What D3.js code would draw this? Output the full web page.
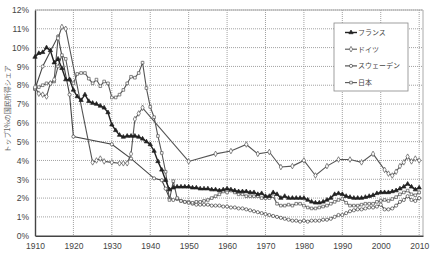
<!DOCTYPE html>
<html>
<head>
<meta charset="utf-8">
<script src="https://cdn.jsdelivr.net/npm/d3@7"></script>
<style>
  body { margin: 0; background: #fff; }
  svg { display: block; font-family: "Liberation Sans", Arial, sans-serif; }
</style>
</head>
<body>
<div id="chart"></div>
<script>
const yearTicks = [1910, 1920, 1930, 1940, 1950, 1960, 1970, 1980, 1990, 2000, 2010];
const shareTicks = [0, 1, 2, 3, 4, 5, 6, 7, 8, 9, 10, 11, 12];
const seriesNames = ["フランス", "ドイツ", "スウェーデン", "日本"];

const franceYears = d3.range(1910, 2011);
const franceValues = [
  9.5, 9.7, 9.75, 10.0, 9.85, 9.2, 9.4, 8.9, 8.3, 8.3,
  7.75, 7.4, 7.2, 7.5, 7.15, 7.05, 7.0, 6.9, 6.8, 6.55,
  5.9, 5.6, 5.35, 5.25, 5.3, 5.3, 5.3, 5.25, 5.15, 5.0,
  4.85, 4.5, 3.95, 3.5, 2.95, 2.45, 2.55, 2.6, 2.6, 2.6,
  2.6, 2.55, 2.55, 2.5, 2.5, 2.5, 2.45, 2.45, 2.4, 2.45,
  2.5, 2.45, 2.4, 2.35, 2.35, 2.35, 2.3, 2.3, 2.2, 2.25,
  2.1, 2.1, 2.3, 2.2, 2.0, 2.1, 2.0, 2.0, 2.0, 2.0,
  2.0, 1.9, 1.8, 1.75, 1.75, 1.8, 1.9, 2.0, 2.2, 2.25,
  2.2, 2.1, 2.05, 2.0, 2.0, 2.0, 2.05, 2.1, 2.15, 2.25,
  2.3, 2.3, 2.3, 2.35, 2.4, 2.5, 2.6, 2.75, 2.6, 2.45,
  2.55
];

const germanyYears = [1910, 1911, 1912, 1913, 1914, 1915, 1916, 1917, 1918,
  1925, 1926, 1927, 1928, 1930, 1932, 1933, 1934, 1935, 1936, 1937, 1938,
  1950, 1957, 1961, 1965, 1968, 1971, 1974, 1977, 1980, 1983, 1986, 1989,
  1992, 1995, 1998, 2001, 2002, 2003, 2004, 2005, 2006, 2007, 2008, 2009, 2010];
const germanyValues = [7.9, 7.55, 7.5, 7.4, 8.1, 8.3, 10.5, 11.1, 11.0,
  3.9, 4.0, 4.1, 3.95, 3.9, 3.85, 3.85, 3.85, 4.35, 6.2, 6.5, 6.8,
  3.95, 4.35, 4.5, 4.85, 4.35, 4.45, 3.65, 3.7, 4.0, 3.2, 3.7, 4.05,
  4.05, 3.9, 4.35, 3.5, 3.3, 3.2, 3.4, 3.7, 3.9, 4.2, 3.95, 4.1, 4.0];

const swedenYears = [1910, 1912, 1916, 1919, 1920, 1930, 1935, 1941, 1943, 1944]
  .concat(d3.range(1945, 2011));
const swedenValues = [7.8, 9.0, 10.6, 7.5, 5.27, 4.86, 4.1, 3.05, 2.95, 2.5,
  2.0, 1.9, 1.95, 1.85, 1.8, 1.8, 1.7, 1.65, 1.65, 1.65,
  1.65, 1.6, 1.6, 1.6, 1.55, 1.55, 1.5, 1.5, 1.45, 1.45,
  1.4, 1.35, 1.3, 1.25, 1.2, 1.15, 1.1, 1.05, 1.0, 0.95,
  0.9, 0.85, 0.8, 0.8, 0.75, 0.8, 0.75, 0.8, 0.8, 0.8,
  0.85, 0.85, 0.9, 1.0, 1.1, 1.1, 1.2, 1.3, 1.35, 1.4,
  1.4, 1.45, 1.5, 1.5, 1.55, 1.65, 1.4, 1.4, 1.45, 1.6,
  1.8, 1.9, 2.1, 1.9, 1.85, 2.0];

const japanYears = d3.range(1910, 2011);
const japanValues = [
  7.8, 7.9, 8.0, 8.1, 8.1, 8.2, 9.0, 9.6, 9.4, 8.3,
  8.1, 8.6, 8.65, 8.65, 8.35, 8.1, 8.3, 7.95, 8.2, 8.1,
  7.35, 7.35, 7.5, 7.75, 8.1, 8.45, 8.4, 8.65, 9.2, 7.85,
  6.85, 6.3, 5.3, 4.4, 3.4, 1.9, 2.9, 2.0, 1.85, 1.8,
  1.75, 1.75, 1.8, 1.8, 1.85, 1.9, 2.0, 2.1, 2.2, 2.35,
  2.3, 2.4, 2.3, 2.2, 2.2, 2.1, 2.1, 2.1, 2.1, 2.0,
  2.0, 2.0, 2.1, 1.7, 1.6, 1.6, 1.65, 1.6, 1.7, 1.7,
  1.6, 1.5, 1.45, 1.45, 1.5, 1.55, 1.6, 1.7, 1.8, 1.9,
  1.95, 1.75, 1.6, 1.6, 1.6, 1.65, 1.7, 1.7, 1.7, 1.8,
  1.85, 1.9, 1.85, 1.95, 2.05, 2.2, 2.3, 2.4, 2.2, 2.15,
  2.3
];

const width = 432;
const height = 259;

const x = d3.scaleLinear().domain([1910, 2011]).range([35, 423]);
const y = d3.scaleLinear().domain([0, 12]).range([235.7, 10]);

const svg = d3.select("#chart").append("svg")
  .attr("width", width)
  .attr("height", height);

// grid
svg.append("g")
  .selectAll("line")
  .data(shareTicks.slice(1))
  .join("line")
  .attr("x1", x(1910)).attr("x2", x(2011))
  .attr("y1", d => y(d)).attr("y2", d => y(d))
  .attr("stroke", "#8a8a8a")
  .attr("stroke-width", 0.8)
  .attr("stroke-dasharray", "1,1");

svg.append("g")
  .selectAll("line")
  .data(yearTicks.slice(1))
  .join("line")
  .attr("x1", d => x(d)).attr("x2", d => x(d))
  .attr("y1", y(12)).attr("y2", y(0))
  .attr("stroke", "#8a8a8a")
  .attr("stroke-width", 0.8)
  .attr("stroke-dasharray", "1,1");

// frame top / right
svg.append("path")
  .attr("d", `M${x(1910)},${y(12)}H${x(2011)}V${y(0)}`)
  .attr("fill", "none")
  .attr("stroke", "#aaa")
  .attr("stroke-width", 1);

// axes
const yAxis = svg.append("g")
  .attr("transform", `translate(${x(1910)},0)`)
  .call(d3.axisLeft(y).tickValues(shareTicks).tickFormat(d => d + "%").tickSize(0).tickPadding(6));
const xAxis = svg.append("g")
  .attr("transform", `translate(0,${y(0)})`)
  .call(d3.axisBottom(x).tickValues(yearTicks).tickFormat(d3.format("d")).tickSize(0).tickPadding(7));

[yAxis, xAxis].forEach(g => {
  g.select(".domain").attr("stroke", "#444").attr("stroke-width", 1.4);
  g.selectAll(".tick text")
    .attr("fill", "#444")
    .style("font-size", "8.5px");
});

svg.append("text")
  .attr("transform", `translate(8,${(y(12) + y(0)) / 2 - 14}) rotate(-90)`)
  .attr("text-anchor", "middle")
  .attr("dominant-baseline", "middle")
  .attr("fill", "#666")
  .style("font-family", "'Noto Sans CJK JP', sans-serif")
  .style("font-size", "7px")
  .text("トップ1%の国民所得シェア");

// series
const series = [
  { name: seriesNames[0], years: franceYears, values: franceValues,
    symbol: d3.symbolTriangle, size: 8, fill: "#222", stroke: "#222", width: 1.4 },
  { name: seriesNames[1], years: germanyYears, values: germanyValues,
    symbol: d3.symbolDiamond, size: 9, fill: "#fff", stroke: "#555", width: 1.1 },
  { name: seriesNames[2], years: swedenYears, values: swedenValues,
    symbol: d3.symbolCircle, size: 8, fill: "#fff", stroke: "#444", width: 1.1 },
  { name: seriesNames[3], years: japanYears, values: japanValues,
    symbol: d3.symbolSquare, size: 7, fill: "#fff", stroke: "#555", width: 1.1 }
];

const line = d3.line().x(d => x(d[0])).y(d => y(d[1]));

const drawOrder = [2, 3, 1, 0];
drawOrder.forEach(i => {
  const s = series[i];
  const pts = s.years.map((yr, j) => [yr, s.values[j]]);
  const g = svg.append("g");
  g.append("path")
    .datum(pts)
    .attr("d", line)
    .attr("fill", "none")
    .attr("stroke", s.stroke)
    .attr("stroke-width", s.width);
  g.selectAll("path.pt")
    .data(pts)
    .join("path")
    .attr("class", "pt")
    .attr("transform", d => `translate(${x(d[0])},${y(d[1])})`)
    .attr("d", d3.symbol(s.symbol, s.size))
    .attr("fill", s.fill)
    .attr("stroke", s.stroke)
    .attr("stroke-width", 0.7);
});

// legend
const legend = svg.append("g").attr("transform", "translate(334,23)");
legend.append("rect")
  .attr("width", 74).attr("height", 68)
  .attr("fill", "#fff")
  .attr("stroke", "#888")
  .attr("stroke-width", 0.8);

const item = legend.selectAll("g.item")
  .data(series)
  .join("g")
  .attr("class", "item")
  .attr("transform", (d, i) => `translate(0,${9.5 + i * 16.7})`);

item.append("line")
  .attr("x1", 11).attr("x2", 23)
  .attr("stroke", d => d.stroke)
  .attr("stroke-width", d => d.width);
item.append("path")
  .attr("transform", "translate(17,0)")
  .attr("d", d => d3.symbol(d.symbol, d.size)())
  .attr("fill", d => d.fill)
  .attr("stroke", d => d.stroke)
  .attr("stroke-width", 0.7);
item.append("text")
  .attr("x", 24)
  .attr("dy", "0.35em")
  .attr("fill", "#444")
  .style("font-family", "'Noto Sans CJK JP', sans-serif")
  .style("font-size", "7px")
  .text(d => d.name);
</script>
</body>
</html>
